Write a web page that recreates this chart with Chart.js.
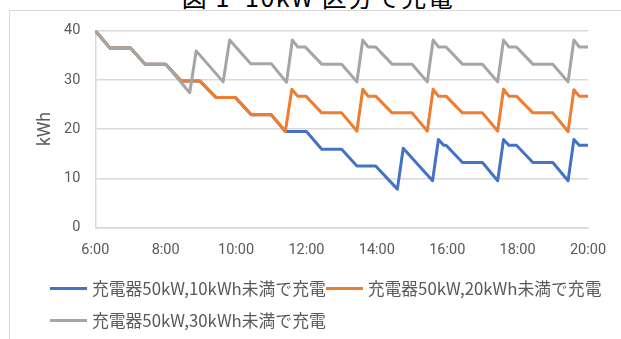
<!DOCTYPE html>
<html lang="ja">
<head>
<meta charset="utf-8">
<script src="https://cdn.jsdelivr.net/npm/chart.js@4.4.1/dist/chart.umd.min.js"></script>
<style>
  html, body { margin: 0; padding: 0; background: #fff; overflow: hidden; }
  body { width: 621px; height: 339px; position: relative; }
  #caption { position: absolute; left: 0; width: 636px; top: -22px; text-align: center;
             font: 25px "Noto Sans CJK JP"; letter-spacing: 1.5px; color: #000; white-space: pre; }
  #frame { position: absolute; left: 9px; top: 10px; width: 700px; height: 400px;
           border: 1px solid #d9d9d9; box-sizing: border-box; background: #fff; }
  #chart { position: absolute; left: 0; top: 0; }
  #legend { position: absolute; left: 50px; top: 272px; width: 568px;
            font: 16.8px "Noto Sans CJK JP"; color: #595959; display: flex; flex-wrap: wrap; }
  .item { display: flex; align-items: center; height: 32px; white-space: nowrap; }
  .swatch { width: 37px; height: 3px; margin-right: 5px; }
</style>
</head>
<body>
<div id="caption">図 1  10kW 区分で充電</div>
<div id="frame"></div>
<canvas id="chart" width="621" height="339"></canvas>
<div id="legend"></div>
<script>
// Battery level (kWh) at each turning point of the day, per charging rule.
const blueTimes = ['6:00','6:25','7:00','7:25','8:00','8:26','8:58','9:26','9:59','10:26','11:00','11:24',
  '12:00','12:26','13:00','13:26','13:58','14:35','14:45','15:35','15:45','15:54','15:58','16:26',
  '17:00','17:26','17:36','17:45','17:58','18:26','19:00','19:26','19:36','19:45','20:00'];
const blueKWh = [40, 36.5, 36.5, 33.2, 33.2, 29.8, 29.8, 26.4, 26.4, 22.9, 22.9, 19.5,
  19.5, 15.9, 15.9, 12.5, 12.5, 7.8, 16.1, 9.5, 17.9, 16.7, 16.7, 13.2,
  13.2, 9.5, 17.9, 16.7, 16.7, 13.2, 13.2, 9.5, 17.9, 16.7, 16.7];

const orangeTimes = ['6:00','6:25','7:00','7:25','8:00','8:26','8:58','9:26','9:59','10:26','11:00','11:24',
  '11:35','11:45','11:59','12:26','13:00','13:26','13:36','13:45','13:58','14:26','15:00','15:26',
  '15:36','15:45','15:58','16:26','17:00','17:26','17:36','17:45','17:58','18:26','19:00','19:26',
  '19:36','19:45','20:00'];
const orangeKWh = [40, 36.5, 36.5, 33.2, 33.2, 29.8, 29.8, 26.4, 26.4, 22.9, 22.9, 19.5,
  28.1, 26.7, 26.7, 23.3, 23.3, 19.6, 28.1, 26.7, 26.7, 23.3, 23.3, 19.6,
  28.1, 26.7, 26.7, 23.3, 23.3, 19.6, 28.1, 26.7, 26.7, 23.3, 23.3, 19.5,
  28.0, 26.7, 26.7];

const greyTimes = ['6:00','6:25','7:00','7:25','8:00','8:41','8:52','9:38','9:49','10:25','11:00','11:26',
  '11:36','11:45','11:58','12:26','13:00','13:26','13:36','13:45','13:58','14:26','15:00','15:26',
  '15:36','15:45','15:58','16:26','17:00','17:26','17:36','17:45','17:58','18:26','19:00','19:26',
  '19:36','19:45','20:00'];
const greyKWh = [40, 36.5, 36.5, 33.2, 33.2, 27.4, 35.9, 29.6, 38.1, 33.3, 33.3, 29.5,
  38.1, 36.7, 36.7, 33.2, 33.2, 29.6, 38.1, 36.7, 36.7, 33.2, 33.2, 29.6,
  38.1, 36.7, 36.7, 33.2, 33.2, 29.6, 38.1, 36.7, 36.7, 33.2, 33.2, 29.6,
  38.1, 36.7, 36.7];

const seriesLabels = ['充電器50kW,10kWh未満で充電', '充電器50kW,20kWh未満で充電', '充電器50kW,30kWh未満で充電'];
const hourTicks = ['6:00', '8:00', '10:00', '12:00', '14:00', '16:00', '18:00', '20:00'];
const kwhTicks = [0, 10, 20, 30, 40];

function toMinutes(t) {
  const [h, m] = t.split(':').map(Number);
  return h * 60 + m;
}
function points(times, values) {
  return times.map((t, i) => ({ x: toMinutes(t), y: values[i] }));
}

const textGrey = '#595959';
const gridGrey = '#d9d9d9';
const tickFont = { family: 'Roboto', size: 14.5 };

const datasets = [
  { label: seriesLabels[0], data: points(blueTimes, blueKWh), borderColor: '#4472c4', backgroundColor: '#4472c4', order: 2 },
  { label: seriesLabels[1], data: points(orangeTimes, orangeKWh), borderColor: '#ed7d31', backgroundColor: '#ed7d31', order: 1 },
  { label: seriesLabels[2], data: points(greyTimes, greyKWh), borderColor: '#a5a5a5', backgroundColor: '#a5a5a5', order: 0 }
];

const chart = new Chart(document.getElementById('chart'), {
  type: 'line',
  data: { datasets },
  options: {
    responsive: false,
    animation: false,
    layout: { padding: { top: 30.7, right: 33, left: 0, bottom: 0 } },
    plugins: { legend: { display: false }, tooltip: { enabled: false } },
    elements: {
      point: { radius: 0 },
      line: { borderWidth: 3, tension: 0, borderJoinStyle: 'round', borderCapStyle: 'round' }
    },
    scales: {
      x: {
        type: 'linear',
        min: toMinutes(hourTicks[0]),
        max: toMinutes(hourTicks[hourTicks.length - 1]),
        afterBuildTicks(scale) { scale.ticks = hourTicks.map(t => ({ value: toMinutes(t) })); },
        ticks: {
          padding: 14, color: textGrey, font: tickFont, maxRotation: 0, autoSkip: false,
          callback: (v, i) => hourTicks[i]
        },
        grid: { display: false, drawTicks: false },
        border: { display: true, color: gridGrey, width: 1.5 },
        afterFit(scale) { scale.height = 111.5; }
      },
      y: {
        min: kwhTicks[0],
        max: kwhTicks[kwhTicks.length - 1],
        afterBuildTicks(scale) { scale.ticks = kwhTicks.map(v => ({ value: v })); },
        ticks: { padding: 15, color: textGrey, font: tickFont },
        grid: { color: gridGrey, lineWidth: 1.5, drawTicks: false },
        border: { display: true, color: gridGrey, width: 1.5 },
        title: { display: true, text: 'kWh', color: textGrey, font: { family: 'Roboto', size: 17.5 }, padding: { top: 35, bottom: 0 } },
        afterFit(scale) { scale.width = 95.3; }
      }
    }
  }
});

// Legend rows built from the chart's own datasets, in series order.
const legend = document.getElementById('legend');
chart.data.datasets.forEach(ds => {
  const item = document.createElement('div');
  item.className = 'item';
  const sw = document.createElement('span');
  sw.className = 'swatch';
  sw.style.background = ds.borderColor;
  const txt = document.createElement('span');
  txt.textContent = ds.label;
  item.appendChild(sw);
  item.appendChild(txt);
  legend.appendChild(item);
});
</script>
</body>
</html>
